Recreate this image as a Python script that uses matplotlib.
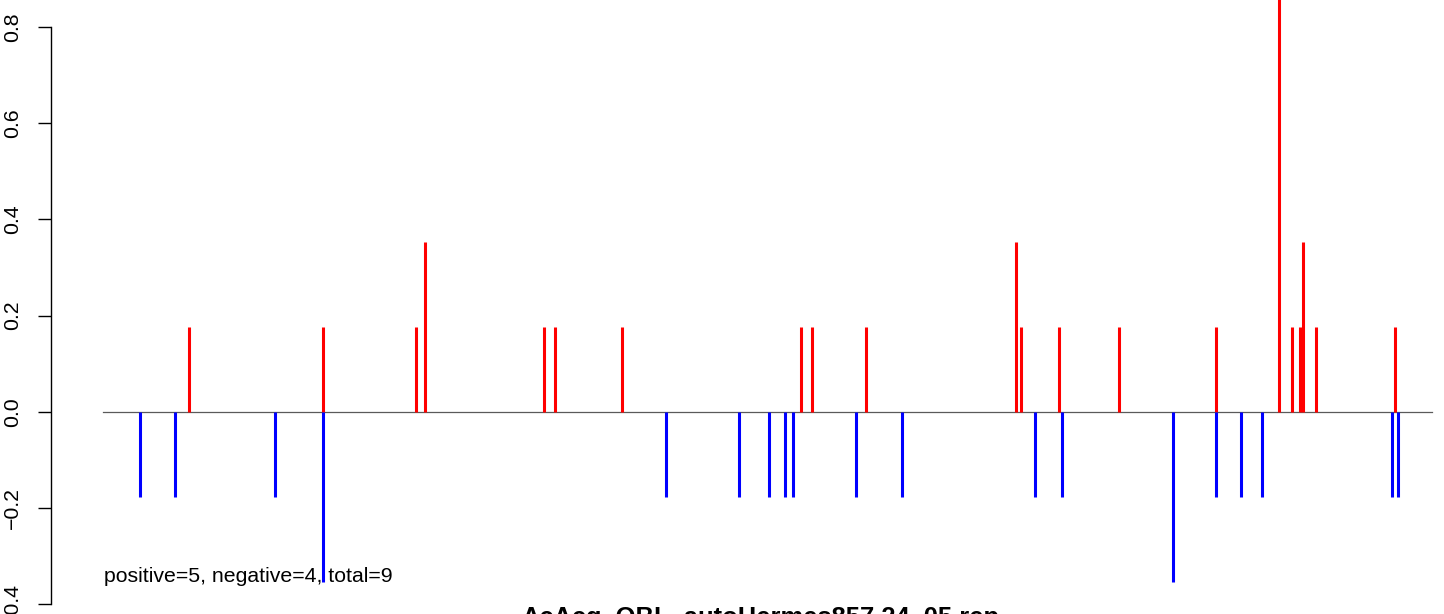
import matplotlib
matplotlib.use("Agg")
import matplotlib.pyplot as plt

plt.rcParams['font.family'] = ['Liberation Sans', 'DejaVu Sans']

# sequence span (position units)
seq_start = 0
seq_end = 1329

# unit step of the bar heights
unit = 0.1767

# positive (red) bars: positions and heights (in units)
pos_x = [86, 220, 313, 322, 441, 452, 519, 698, 709, 763, 913, 918, 956,
         1016, 1113, 1176, 1189, 1197, 1200, 1213, 1292]
pos_k = [1, 1, 1, 2, 1, 1, 1, 1, 1, 1, 2, 1, 1,
         1, 1, 5, 1, 1, 2, 1, 1]

# negative (blue) bars
neg_x = [37, 72, 172, 220, 563, 636, 666, 682, 690, 753, 799, 932, 959,
         1070, 1113, 1138, 1159, 1289, 1295]
neg_k = [1, 1, 1, 2, 1, 1, 1, 1, 1, 1, 1, 1, 1,
         2, 1, 1, 1, 1, 1]

yticks = [-0.4, -0.2, 0.0, 0.2, 0.4, 0.6, 0.8]
ytick_labels = ["\u22120.4", "\u22120.2", "0.0", "0.2", "0.4", "0.6", "0.8"]

summary = "positive=5, negative=4, total=9"
title = "AcAcq_OBL_autoHermes857.24_05.rep"

W, H = 1444, 614
fig = plt.figure(figsize=(W / 100, H / 100), dpi=100)
ax = fig.add_axes([0, 0, 1, 1])
ax.set_facecolor('white')

# map: x pixel = data + 103 ; y: 0 at pixel 411.7, 481 px per unit
x0px = 103.0
ax.set_xlim(-x0px, W - x0px)
ax.set_ylim(-(H - 411.7) / 481.0, 411.7 / 481.0)

# zero line
ax.plot([seq_start, seq_end], [0, 0], color='#5a5a5a', lw=0.9, zorder=1)

# bars
ax.vlines(pos_x, 0, [k * unit for k in pos_k], colors='#ff0000', lw=2.2,
          zorder=2, capstyle='butt')
ax.vlines(neg_x, 0, [-k * unit for k in neg_k], colors='#0000ff', lw=2.2,
          zorder=2, capstyle='butt')

# y axis in R style
for s in ['top', 'right', 'bottom']:
    ax.spines[s].set_visible(False)
ax.spines['left'].set_position(('data', 50.7 - x0px))
ax.spines['left'].set_bounds(-0.4, 0.8)
ax.spines['left'].set_linewidth(1.0)
ax.set_yticks(yticks)
ax.set_yticklabels(ytick_labels, rotation=90, va='center', fontsize=15.3)
ax.tick_params(axis='y', length=9.7, width=1.0, pad=11)
ax.set_xticks([])

# summary text
ax.text(seq_start + 1, -0.354, summary, ha='left', va='baseline',
        fontsize=15.3, color='black')

# title (mostly cut off at the bottom)
fig.text(760 / W, -11 / H, title, ha='center', va='baseline',
         fontsize=18.4, fontweight='bold')

fig.savefig('out.png', dpi=100)
